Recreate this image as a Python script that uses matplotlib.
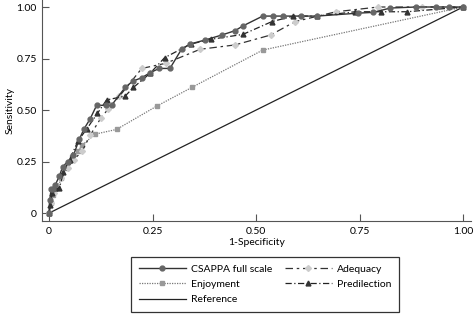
import matplotlib
matplotlib.use("Agg")
import matplotlib.pyplot as plt

plt.rcParams['font.family'] = ['Lato', 'DejaVu Sans']

csappa_x = [0, 0.002, 0.005, 0.01, 0.015, 0.025, 0.033, 0.045, 0.059, 0.073, 0.085, 0.099,
            0.115, 0.138, 0.151, 0.184, 0.202, 0.224, 0.244, 0.266, 0.292, 0.32, 0.34, 0.377,
            0.417, 0.449, 0.469, 0.516, 0.542, 0.564, 0.609, 0.647, 0.745, 0.783, 0.824,
            0.886, 0.935, 0.967, 1.0]
csappa_y = [0, 0.066, 0.115, 0.115, 0.136, 0.18, 0.225, 0.25, 0.28, 0.358, 0.41, 0.456,
            0.523, 0.523, 0.523, 0.61, 0.64, 0.657, 0.681, 0.702, 0.702, 0.795, 0.82, 0.84,
            0.864, 0.885, 0.909, 0.956, 0.956, 0.956, 0.956, 0.956, 0.97, 0.974, 0.995,
            1.0, 1.0, 1.0, 1.0]

enjoy_x = [0, 0.005, 0.01, 0.02, 0.03, 0.04, 0.055, 0.07, 0.08, 0.111, 0.163, 0.26, 0.345, 0.516, 1.0]
enjoy_y = [0, 0.05, 0.09, 0.12, 0.17, 0.22, 0.27, 0.30, 0.33, 0.383, 0.406, 0.519, 0.61, 0.791, 1.0]

adeq_x = [0, 0.005, 0.012, 0.02, 0.03, 0.045, 0.06, 0.08, 0.1, 0.125, 0.142, 0.17, 0.224,
          0.282, 0.365, 0.449, 0.535, 0.594, 0.693, 0.795, 0.9, 1.0]
adeq_y = [0, 0.05, 0.10, 0.13, 0.17, 0.22, 0.26, 0.30, 0.38, 0.46, 0.503, 0.567, 0.702,
          0.727, 0.795, 0.816, 0.864, 0.929, 0.977, 1.0, 1.0, 1.0]

pred_x = [0, 0.003, 0.008, 0.015, 0.025, 0.035, 0.05, 0.07, 0.091, 0.117, 0.139, 0.184,
          0.204, 0.244, 0.279, 0.342, 0.39, 0.468, 0.538, 0.59, 0.648, 0.739, 0.801, 0.865, 1.0]
pred_y = [0, 0.04, 0.10, 0.12, 0.12, 0.20, 0.26, 0.35, 0.408, 0.484, 0.549, 0.568,
          0.61, 0.678, 0.754, 0.82, 0.843, 0.867, 0.929, 0.956, 0.956, 0.977, 0.977, 0.977, 1.0]

ref_x = [0, 1]
ref_y = [0, 1]

xticks = [0, 0.25, 0.5, 0.75, 1.0]
xticklabels = ["0", "0.25", "0.50", "0.75", "1.00"]
yticks = [0, 0.25, 0.5, 0.75, 1.0]
yticklabels = ["0", "0.25", "0.50", "0.75", "1.00"]

fig = plt.figure(figsize=(4.73, 3.15), dpi=100)
ax = fig.add_axes([0.0894, 0.298, 0.9064, 0.702])

l1, = ax.plot(csappa_x, csappa_y, color='#333333', lw=1.0, marker='o', ms=3.5,
              mfc='#666666', mec='#666666', label='CSAPPA full scale', zorder=5)
l2, = ax.plot(enjoy_x, enjoy_y, color='#777777', lw=0.9, ls=(0, (1, 1)), marker='s', ms=3,
              mfc='#999999', mec='#999999', label='Enjoyment', zorder=3)
l5, = ax.plot(ref_x, ref_y, color='#222222', lw=0.9, label='Reference', zorder=2)
l3, = ax.plot(adeq_x, adeq_y, color='#333333', lw=0.9, ls=(0, (6, 3, 2, 3)), marker='D', ms=3,
              mfc='#cccccc', mec='#cccccc', label='Adequacy', zorder=4)
l4, = ax.plot(pred_x, pred_y, color='#222222', lw=0.9, ls=(0, (5, 2, 1, 2)), marker='^', ms=3.5,
              mfc='#333333', mec='#333333', label='Predilection', zorder=4)

ax.set_xlim(-0.0162, 1.019)
ax.set_ylim(-0.0388, 1.034)
for s in ['top', 'right']:
    ax.spines[s].set_visible(False)
for s in ['left', 'bottom']:
    ax.spines[s].set_color('#555555')
    ax.spines[s].set_linewidth(0.8)
ax.set_xticks(xticks)
ax.set_xticklabels(xticklabels)
ax.set_yticks(yticks)
ax.set_yticklabels(yticklabels)
ax.tick_params(direction='in', length=5, width=0.8, color='#555555', labelsize=7.5, pad=4)
ax.set_xlabel('1-Specificity', fontsize=7.5, labelpad=2)
ax.set_ylabel('Sensitivity', fontsize=7.5)
ax.yaxis.set_label_coords(-0.064, 0.5)

leg = fig.legend(handles=[l1, l2, l5, l3, l4], ncol=2, loc='upper left',
                 bbox_to_anchor=(131/473, 1 - 257/315), fontsize=7.5, frameon=True,
                 fancybox=False, edgecolor='black', handlelength=4.5, columnspacing=1.2,
                 borderaxespad=0, labelspacing=0.55, handletextpad=0.5, borderpad=0.75)
leg.get_frame().set_linewidth(0.9)

fig.savefig('out.png', dpi=100)
